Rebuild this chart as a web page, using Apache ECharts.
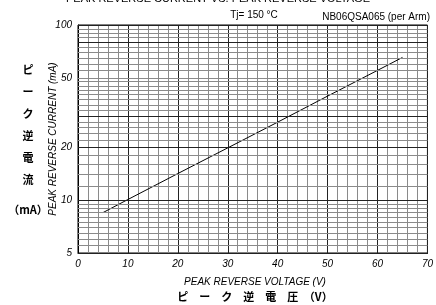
<!DOCTYPE html>
<html>
<head>
<meta charset="utf-8">
<script src="https://cdn.jsdelivr.net/npm/echarts@6/dist/echarts.min.js"></script>
<style>
  html, body { margin: 0; padding: 0; background: #fff; }
  #main { width: 436px; height: 305px; }
</style>
</head>
<body>
<div id="main"></div>
<script>
var chart = echarts.init(document.getElementById('main'));

// peak reverse voltage (V) vs peak reverse current (mA)
var voltage = [5, 10, 20, 30, 40, 50, 60, 65];
var current = [8.5, 10.1, 14.2, 19.9, 27.9, 39.3, 55.1, 65.3];

// y axis labels and log paper lines
var yTickLabels = [5, 10, 20, 50, 100];
var yMajorLines = [5, 10, 20, 30, 80, 100];
var yMinorLines = [5.5, 6, 6.5, 7, 7.5, 8, 8.5, 9, 9.5,
                   12, 14, 16, 18, 22, 24, 26, 28,
                   32.5, 35, 37.5, 40, 42.5, 45, 47.5, 50,
                   55, 60, 65, 70, 75, 85, 90, 95];

var fontEn = '"Liberation Sans", Arial, sans-serif';
var fontJa = '"Noto Sans CJK JP", sans-serif';

function gridLine(v, color) {
    var item = { yAxis: v, lineStyle: { color: color, width: 1, type: 'solid' } };
    if (yTickLabels.indexOf(v) >= 0) {
        item.label = {
            show: true, position: 'start', distance: 6,
            formatter: String(v),
            fontStyle: 'italic', fontSize: 10, color: '#000', fontFamily: fontEn
        };
    }
    return item;
}

var lineData = [];
for (var i = 0; i < yMinorLines.length; i++) lineData.push(gridLine(yMinorLines[i], '#8a8a8a'));
for (var i = 0; i < yMajorLines.length; i++) lineData.push(gridLine(yMajorLines[i], '#222'));

var sideText = ['ピ', 'ー', 'ク', '逆', '電', '流'];
var graphics = [
    { type: 'text', left: 'center', top: -7, style: { text: 'PEAK REVERSE CURRENT VS. PEAK REVERSE VOLTAGE', font: '11px ' + fontEn, fill: '#000' } },
    { type: 'text', x: 254, y: 15, style: { text: 'Tj= 150 °C', font: '10px ' + fontEn, fill: '#000', align: 'center', verticalAlign: 'middle' } },
    { type: 'text', x: 430, y: 17, style: { text: 'NB06QSA065 (per Arm)', font: '10px ' + fontEn, fill: '#000', align: 'right', verticalAlign: 'middle' } },
    { type: 'text', x: 255, y: 282, style: { text: 'PEAK REVERSE VOLTAGE (V)', font: 'italic 10px ' + fontEn, fill: '#000', align: 'center', verticalAlign: 'middle' } },
    { type: 'text', x: 255, y: 297, style: { text: 'ピ　ー　ク　逆　電　圧　（V）', font: 'bold 11px ' + fontJa, fill: '#000', align: 'center', verticalAlign: 'middle' } },
    { type: 'text', x: 28, y: 210, style: { text: '（mA）', font: 'bold 11px ' + fontJa, fill: '#000', align: 'center', verticalAlign: 'middle' } }
];
for (var i = 0; i < sideText.length; i++) {
    graphics.push({ type: 'text', x: 28, y: 70 + i * 22, style: { text: sideText[i], font: 'bold 11px ' + fontJa, fill: '#000', align: 'center', verticalAlign: 'middle' } });
}

var option = {
    backgroundColor: '#fff',
    animation: false,
    grid: { left: 78, top: 25, right: 5, bottom: 52, show: true, borderColor: '#000', borderWidth: 1, backgroundColor: 'transparent' },
    graphic: graphics,
    xAxis: {
        type: 'value', min: 0, max: 70, interval: 10,
        axisLine: { show: true, lineStyle: { color: '#000' } },
        axisTick: { show: false },
        axisLabel: { fontStyle: 'italic', fontSize: 10, color: '#000', fontFamily: fontEn, margin: 6 },
        splitLine: { show: true, lineStyle: { color: '#222', width: 1 } },
        minorTick: { show: false, splitNumber: 5 },
        minorSplitLine: { show: true, lineStyle: { color: '#8a8a8a', width: 1 } }
    },
    yAxis: {
        type: 'log', min: 5, max: 100,
        name: 'PEAK REVERSE CURRENT (mA)', nameLocation: 'middle', nameRotate: 90, nameGap: 20,
        nameTextStyle: { fontStyle: 'italic', fontSize: 10, color: '#000', fontFamily: fontEn },
        axisLine: { show: true, lineStyle: { color: '#000' } },
        axisTick: { show: false },
        axisLabel: { show: false },
        splitLine: { show: false }
    },
    series: [{
        type: 'line',
        data: voltage.map(function (v, i) { return [v, current[i]]; }),
        symbol: 'none',
        lineStyle: { color: '#000', width: 1 },
        markLine: {
            silent: true, symbol: 'none', animation: false,
            label: { show: false },
            lineStyle: { type: 'solid' },
            data: lineData
        }
    }]
};

chart.setOption(option);
</script>
</body>
</html>
